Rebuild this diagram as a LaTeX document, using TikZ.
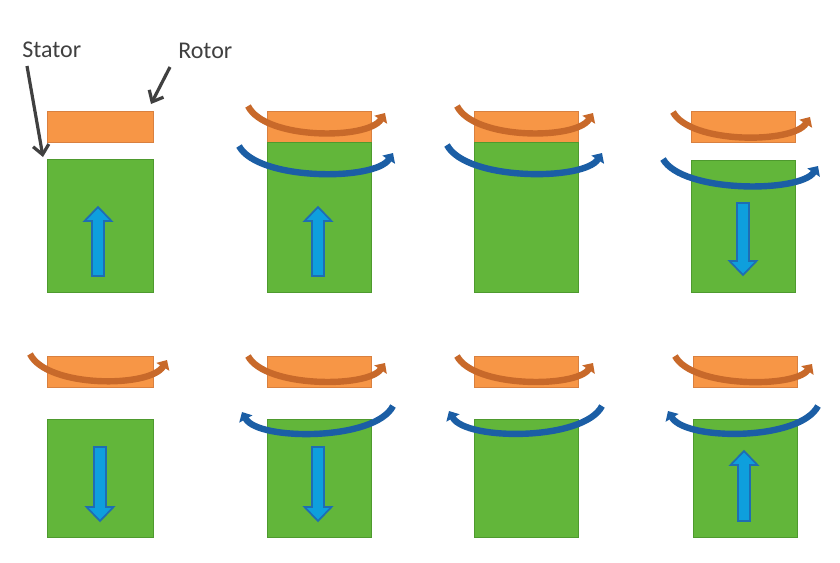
\documentclass[tikz,border=0pt]{standalone}
\usepackage{fontspec}
\setmainfont{Carlito}
\usetikzlibrary{arrows.meta}
\definecolor{rotorfill}{HTML}{F79646}
\definecolor{rotorline}{HTML}{D9803F}
\definecolor{statorfill}{HTML}{62B63A}
\definecolor{statorline}{HTML}{4E9A2E}
\definecolor{fieldfill}{HTML}{0E9FDD}
\definecolor{fieldline}{HTML}{1E6DB4}
\definecolor{rotorarc}{HTML}{C8692A}
\definecolor{statorarc}{HTML}{1B5EA5}
\definecolor{labelgray}{HTML}{404040}
\tikzset{
  rotorbox/.style={fill=rotorfill,draw=rotorline,line width=.6pt},
  statorbox/.style={fill=statorfill,draw=statorline,line width=.6pt},
  magnet/.style={fill=fieldfill,draw=fieldline,line width=1.3pt,line join=miter},
  rotorflux/.style={draw=rotorarc,line width=4.8pt,-{Triangle[width=11pt,length=6pt]}},
  statorflux/.style={draw=statorarc,line width=4.8pt,-{Triangle[width=11pt,length=6pt]}},
  pointer/.style={draw=labelgray,line width=2.4pt,-{Straight Barb[length=7pt,width=12pt]}},
  tag/.style={inner sep=0pt,text=labelgray,font=\fontsize{18}{22}\selectfont}
}
\begin{document}
\begin{tikzpicture}[x=.75pt,y=-.75pt]
\path[use as bounding box,fill=white] (0,0) rectangle (840,562);
% labels
\node[tag,anchor=base west] (statorlbl) at (22,57) {Stator};
\node[tag,anchor=base west] (rotorlbl) at (178,58) {Rotor};
\coordinate (statortail) at (27,66);
\coordinate (statortip) at (43,157);
\coordinate (rotortail) at (170,67);
\coordinate (rotortip) at (151,104);
\draw[pointer] (statortail) -- (statortip);
\draw[pointer] (rotortail) -- (rotortip);
% top row
\draw[rotorbox] (47,111) rectangle (153,142);
\draw[statorbox] (47,159) rectangle (153,292);
\draw[magnet] (92,276) -- ++(0,-55) -- ++(-7.5,0) -- ++(13.5,-14) -- ++(13.5,14) -- ++(-7.5,0) -- ++(0,55) -- cycle;
\draw[rotorbox] (267,111) rectangle (371,142);
\draw[statorbox] (267,142) rectangle (371,292);
\draw[magnet] (312,276) -- ++(0,-55) -- ++(-7.5,0) -- ++(13.5,-14) -- ++(13.5,14) -- ++(-7.5,0) -- ++(0,55) -- cycle;
\draw[rotorflux] (248,106) .. controls (265,140) and (368,140) .. (385,113);
\draw[statorflux] (239,146) .. controls (258,181) and (375,181) .. (393,153);
\draw[rotorbox] (474,111) rectangle (578,142);
\draw[statorbox] (474,142) rectangle (578,292);
\draw[rotorflux] (457,106) .. controls (474,140) and (576,140) .. (593,113);
\draw[statorflux] (447,145) .. controls (466,181) and (584,181) .. (602,153);
\draw[rotorbox] (691,111) rectangle (795,142);
\draw[statorbox] (691,160) rectangle (795,292);
\draw[magnet] (737,203) -- ++(0,58) -- ++(-7.5,0) -- ++(13.5,14) -- ++(13.5,-14) -- ++(-7.5,0) -- ++(0,-58) -- cycle;
\draw[rotorflux] (673,112) .. controls (690,144) and (793,144) .. (810,117);
\draw[statorflux] (663,159) .. controls (682,193) and (800,193) .. (818,166);
% bottom row
\draw[rotorbox] (47,356) rectangle (153,387);
\draw[statorbox] (47,419) rectangle (153,537);
\draw[magnet] (94,447) -- ++(0,60) -- ++(-7.5,0) -- ++(13.5,14) -- ++(13.5,-14) -- ++(-7.5,0) -- ++(0,-60) -- cycle;
\draw[rotorflux] (30,354) .. controls (47,388) and (150,388) .. (167,360);
\draw[rotorbox] (267,356) rectangle (371,387);
\draw[statorbox] (267,419) rectangle (371,537);
\draw[magnet] (312,447) -- ++(0,60) -- ++(-7.5,0) -- ++(13.5,14) -- ++(13.5,-14) -- ++(-7.5,0) -- ++(0,-60) -- cycle;
\draw[rotorflux] (248,356) .. controls (265,388) and (368,388) .. (385,363);
\draw[statorflux] (393,406) .. controls (375,441) and (258,441) .. (242,412);
\draw[rotorbox] (474,356) rectangle (578,387);
\draw[statorbox] (474,419) rectangle (578,537);
\draw[rotorflux] (457,356) .. controls (474,388) and (576,388) .. (593,363);
\draw[statorflux] (602,406) .. controls (584,441) and (466,441) .. (449,411);
\draw[rotorbox] (693,356) rectangle (797,387);
\draw[statorbox] (693,419) rectangle (797,537);
\draw[magnet] (738,521) -- ++(0,-56) -- ++(-7.5,0) -- ++(13.5,-14) -- ++(13.5,14) -- ++(-7.5,0) -- ++(0,56) -- cycle;
\draw[rotorflux] (675,356) .. controls (692,388) and (795,388) .. (812,364);
\draw[statorflux] (818,406) .. controls (800,441) and (686,441) .. (668,411);
\end{tikzpicture}
\end{document}
